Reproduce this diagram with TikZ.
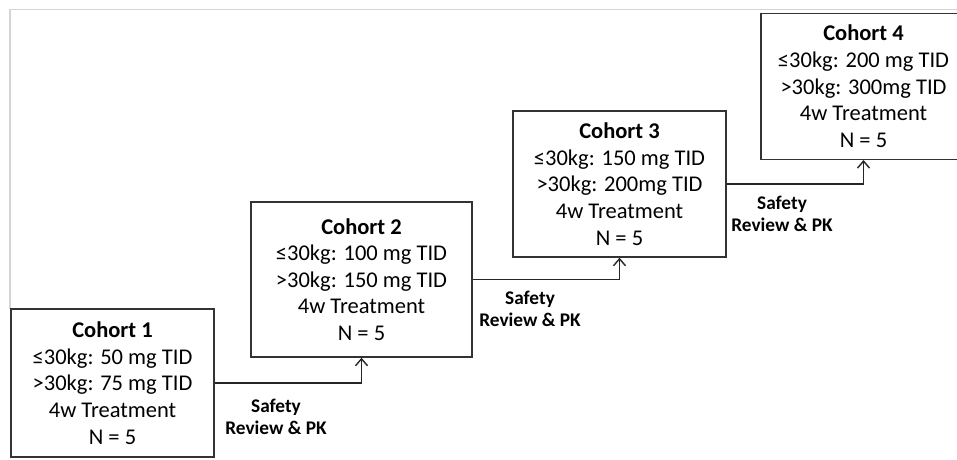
\documentclass[tikz,border=0pt]{standalone}
\usepackage{fontspec}
\setmainfont{Carlito}
\usetikzlibrary{arrows.meta}
\begin{document}
\begin{tikzpicture}[x=1pt,y=-1pt,
  cohort/.style={draw=black!80,line width=1.4pt,fill=white,align=center,inner sep=0pt,
    font=\fontsize{22.5}{26.6}\selectfont},
  flow/.style={draw=black!85,line width=1.4pt,-{Straight Barb[length=7pt,width=12pt,line width=1.4pt]}},
  steplabel/.style={align=center,inner sep=0pt,font=\fontsize{19.3}{22}\selectfont\bfseries},
  frameline/.style={draw=black!17,line width=1.8pt}]
\clip (0,0) rectangle (957,459);
\fill[white] (0,0) rectangle (957,459);
\coordinate (ftl) at (10,9.5);
\coordinate (ftr) at (957,9.5);
\coordinate (fbl) at (10,309);
\draw[frameline] (fbl) -- (ftl) -- (ftr);
\node[cohort,minimum width=203pt,minimum height=148pt] (c1) at (112.5,383)
  {\textbf{Cohort 1}\\≤30kg: 50 mg TID\\>30kg: 75 mg TID\\4w Treatment\\N = 5};
\node[cohort,minimum width=221pt,minimum height=155pt] (c2) at (361.5,279.5)
  {\textbf{Cohort 2}\\≤30kg: 100 mg TID\\>30kg: 150 mg TID\\4w Treatment\\N = 5};
\node[cohort,minimum width=213pt,minimum height=146pt] (c3) at (619.5,184)
  {\textbf{Cohort 3}\\≤30kg: 150 mg TID\\>30kg: 200mg TID\\4w Treatment\\N = 5};
\node[cohort,minimum width=205pt,minimum height=146pt] (c4) at (863.5,86.3)
  {\textbf{Cohort 4}\\≤30kg: 200 mg TID\\>30kg: 300mg TID\\4w Treatment\\N = 5};
\draw[flow] (c1.east) -| (c2.south);
\draw[flow] (c2.east) -| (c3.south);
\draw[flow] (c3.east) -| (c4.south);
\node[steplabel] (s1) at (276,417) {Safety\\Review \& PK};
\node[steplabel] (s2) at (530,309) {Safety\\Review \& PK};
\node[steplabel] (s3) at (782,214) {Safety\\Review \& PK};
\end{tikzpicture}
\end{document}
